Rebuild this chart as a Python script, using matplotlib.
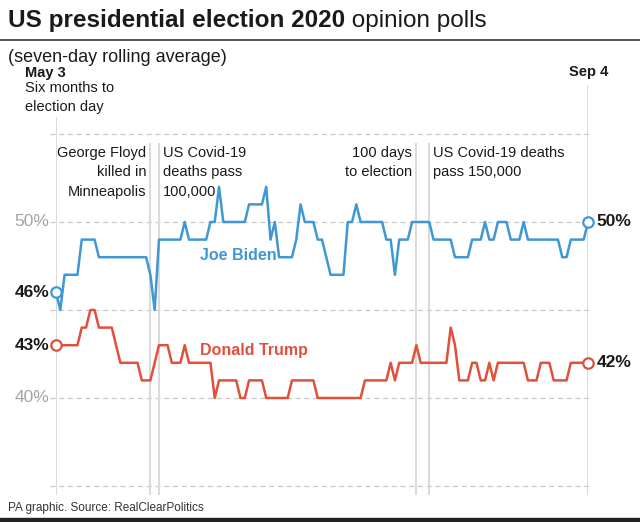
import matplotlib.pyplot as plt
import pandas as pd

plt.rcParams['font.family'] = ['Liberation Sans', 'DejaVu Sans']

# Datos: media de siete dias, del 3 de mayo al 4 de septiembre de 2020
dias = pd.date_range("2020-05-03", "2020-09-04", freq="D")
biden = [46, 45, 47, 47, 47, 47, 49, 49, 49, 49,
         48, 48, 48, 48, 48, 48, 48, 48, 48, 48,
         48, 48, 47, 45, 49, 49, 49, 49, 49, 49,
         50, 49, 49, 49, 49, 49, 50, 50, 52, 50,
         50, 50, 50, 50, 50, 51, 51, 51, 51, 52,
         49, 50, 48, 48, 48, 48, 49, 51, 50, 50,
         50, 49, 49, 48, 47, 47, 47, 47, 50, 50,
         51, 50, 50, 50, 50, 50, 50, 49, 49, 47,
         49, 49, 49, 50, 50, 50, 50, 50, 49, 49,
         49, 49, 49, 48, 48, 48, 48, 49, 49, 49,
         50, 49, 49, 50, 50, 50, 49, 49, 49, 50,
         49, 49, 49, 49, 49, 49, 49, 49, 48, 48,
         49, 49, 49, 49, 50]
trump = [43, 43, 43, 43, 43, 43, 44, 44, 45, 45,
         44, 44, 44, 44, 43, 42, 42, 42, 42, 42,
         41, 41, 41, 42, 43, 43, 43, 42, 42, 42,
         43, 42, 42, 42, 42, 42, 42, 40, 41, 41,
         41, 41, 41, 40, 40, 41, 41, 41, 41, 40,
         40, 40, 40, 40, 40, 41, 41, 41, 41, 41,
         41, 40, 40, 40, 40, 40, 40, 40, 40, 40,
         40, 40, 41, 41, 41, 41, 41, 41, 42, 41,
         42, 42, 42, 42, 43, 42, 42, 42, 42, 42,
         42, 42, 44, 43, 41, 41, 41, 42, 42, 41,
         41, 42, 41, 42, 42, 42, 42, 42, 42, 42,
         41, 41, 41, 42, 42, 42, 41, 41, 41, 41,
         42, 42, 42, 42, 42]

eventos = pd.to_datetime(["2020-05-25", "2020-05-27", "2020-07-26", "2020-07-29"])
textos_eventos = ["George Floyd\nkilled in\nMinneapolis",
                  "US Covid-19\ndeaths pass\n100,000",
                  "100 days\nto election",
                  "US Covid-19 deaths\npass 150,000"]
lados = ["right", "left", "right", "left"]
rejilla = [35, 40, 45, 50, 55]
ticks_gris = [50, 40]

AZUL = "#3f97d3"
ROJO = "#e1503a"
GRIS = "#d9d9d9"
NEGRO = "#1a1a1a"

W, H = 640, 522
PX = 17.6  # pixeles por punto porcentual

def fx(px):
    return px / W

def fy(py):
    return 1 - py / H

fig = plt.figure(figsize=(6.4, 5.22), dpi=100)

y_abajo, y_arriba = 34.3, 58.0
ax = fig.add_axes([fx(56), fy(222 + (50 - y_abajo) * PX), 532 / W,
                   (y_arriba - y_abajo) * PX / H])
ax.set_xlim(dias[0], dias[-1])
ax.set_ylim(y_abajo, y_arriba)
ax.axis("off")

# rejilla discontinua
for v in rejilla:
    ax.axhline(v, xmin=-6 / 532, xmax=1 + 2 / 532, color="#c8c8c8", lw=0.9,
               ls=(0, (4, 3)), clip_on=False, zorder=1)
for v in ticks_gris:
    ax.annotate(f"{v}%", xy=(dias[0], v), xytext=(-5, 0), textcoords="offset points",
                ha="right", va="center", fontsize=12.5, color="#a3a3a3")

# lineas verticales
ax.vlines(dias[0], 34.5, 55.97, color=GRIS, lw=1.4, zorder=1)
ax.vlines(dias[-1], 34.5, 57.78, color=GRIS, lw=1.4, zorder=1)
for fecha, texto, lado in zip(eventos, textos_eventos, lados):
    ax.vlines(fecha, 34.5, 54.49, color=GRIS, lw=1.4, zorder=1)
    dx = -3 if lado == "right" else 3
    ax.annotate(texto, xy=(fecha, 54.49), xytext=(dx, -2), textcoords="offset points",
                ha=lado, va="top", fontsize=10.5, color=NEGRO, linespacing=1.5)

# series
for serie, color in [(biden, AZUL), (trump, ROJO)]:
    ax.plot(dias, serie, color=color, lw=1.8, zorder=3, clip_on=False)
    ax.plot([dias[0], dias[-1]], [serie[0], serie[-1]], "o", mfc="white", mec=color,
            ms=7.5, mew=1.6, zorder=4, clip_on=False)
    ax.annotate(f"{serie[0]}%", xy=(dias[0], serie[0]), xytext=(-5, 0),
                textcoords="offset points", ha="right", va="center",
                fontsize=12.5, fontweight="bold", color=NEGRO)
    ax.annotate(f"{serie[-1]}%", xy=(dias[-1], serie[-1]), xytext=(6, 0),
                textcoords="offset points", ha="left", va="center",
                fontsize=12.5, fontweight="bold", color=NEGRO)

fig.text(fx(200), fy(255), "Joe Biden", fontsize=11.5, fontweight="bold",
         color=AZUL, va="center")
fig.text(fx(200), fy(351), "Donald Trump", fontsize=11.5, fontweight="bold",
         color=ROJO, va="center")

# encabezados de fechas
fig.text(fx(25), fy(73), "May 3", fontsize=10.5, fontweight="bold", color=NEGRO, va="center")
fig.text(fx(25), fy(81), "Six months to\nelection day", fontsize=10.5, color=NEGRO,
         va="top", linespacing=1.5)
fig.text(fx(588.5), fy(72), "Sep 4", fontsize=10.5, fontweight="bold", color=NEGRO,
         va="center", ha="center")

# titulo
t = fig.text(fx(8), fy(27), "US presidential election 2020", fontsize=17.5,
             fontweight="bold", color=NEGRO, va="baseline")
fig.text(0, 0, "")
plt.annotate(" opinion polls", xycoords=t, xy=(1, 0), va="bottom", fontsize=17.5,
             color=NEGRO)
fig.add_artist(plt.Line2D([0, 1], [fy(40), fy(40)], color="#333333", lw=1.2))
fig.text(fx(8), fy(57), "(seven-day rolling average)", fontsize=13, color=NEGRO,
         va="center")

fig.text(fx(8), fy(508), "PA graphic. Source: RealClearPolitics", fontsize=8.5,
         color="#333333", va="center")
fig.add_artist(plt.Rectangle((0, 0), 1, 4 / H, transform=fig.transFigure,
                             color="#222222"))

plt.savefig("out.png", dpi=100)
